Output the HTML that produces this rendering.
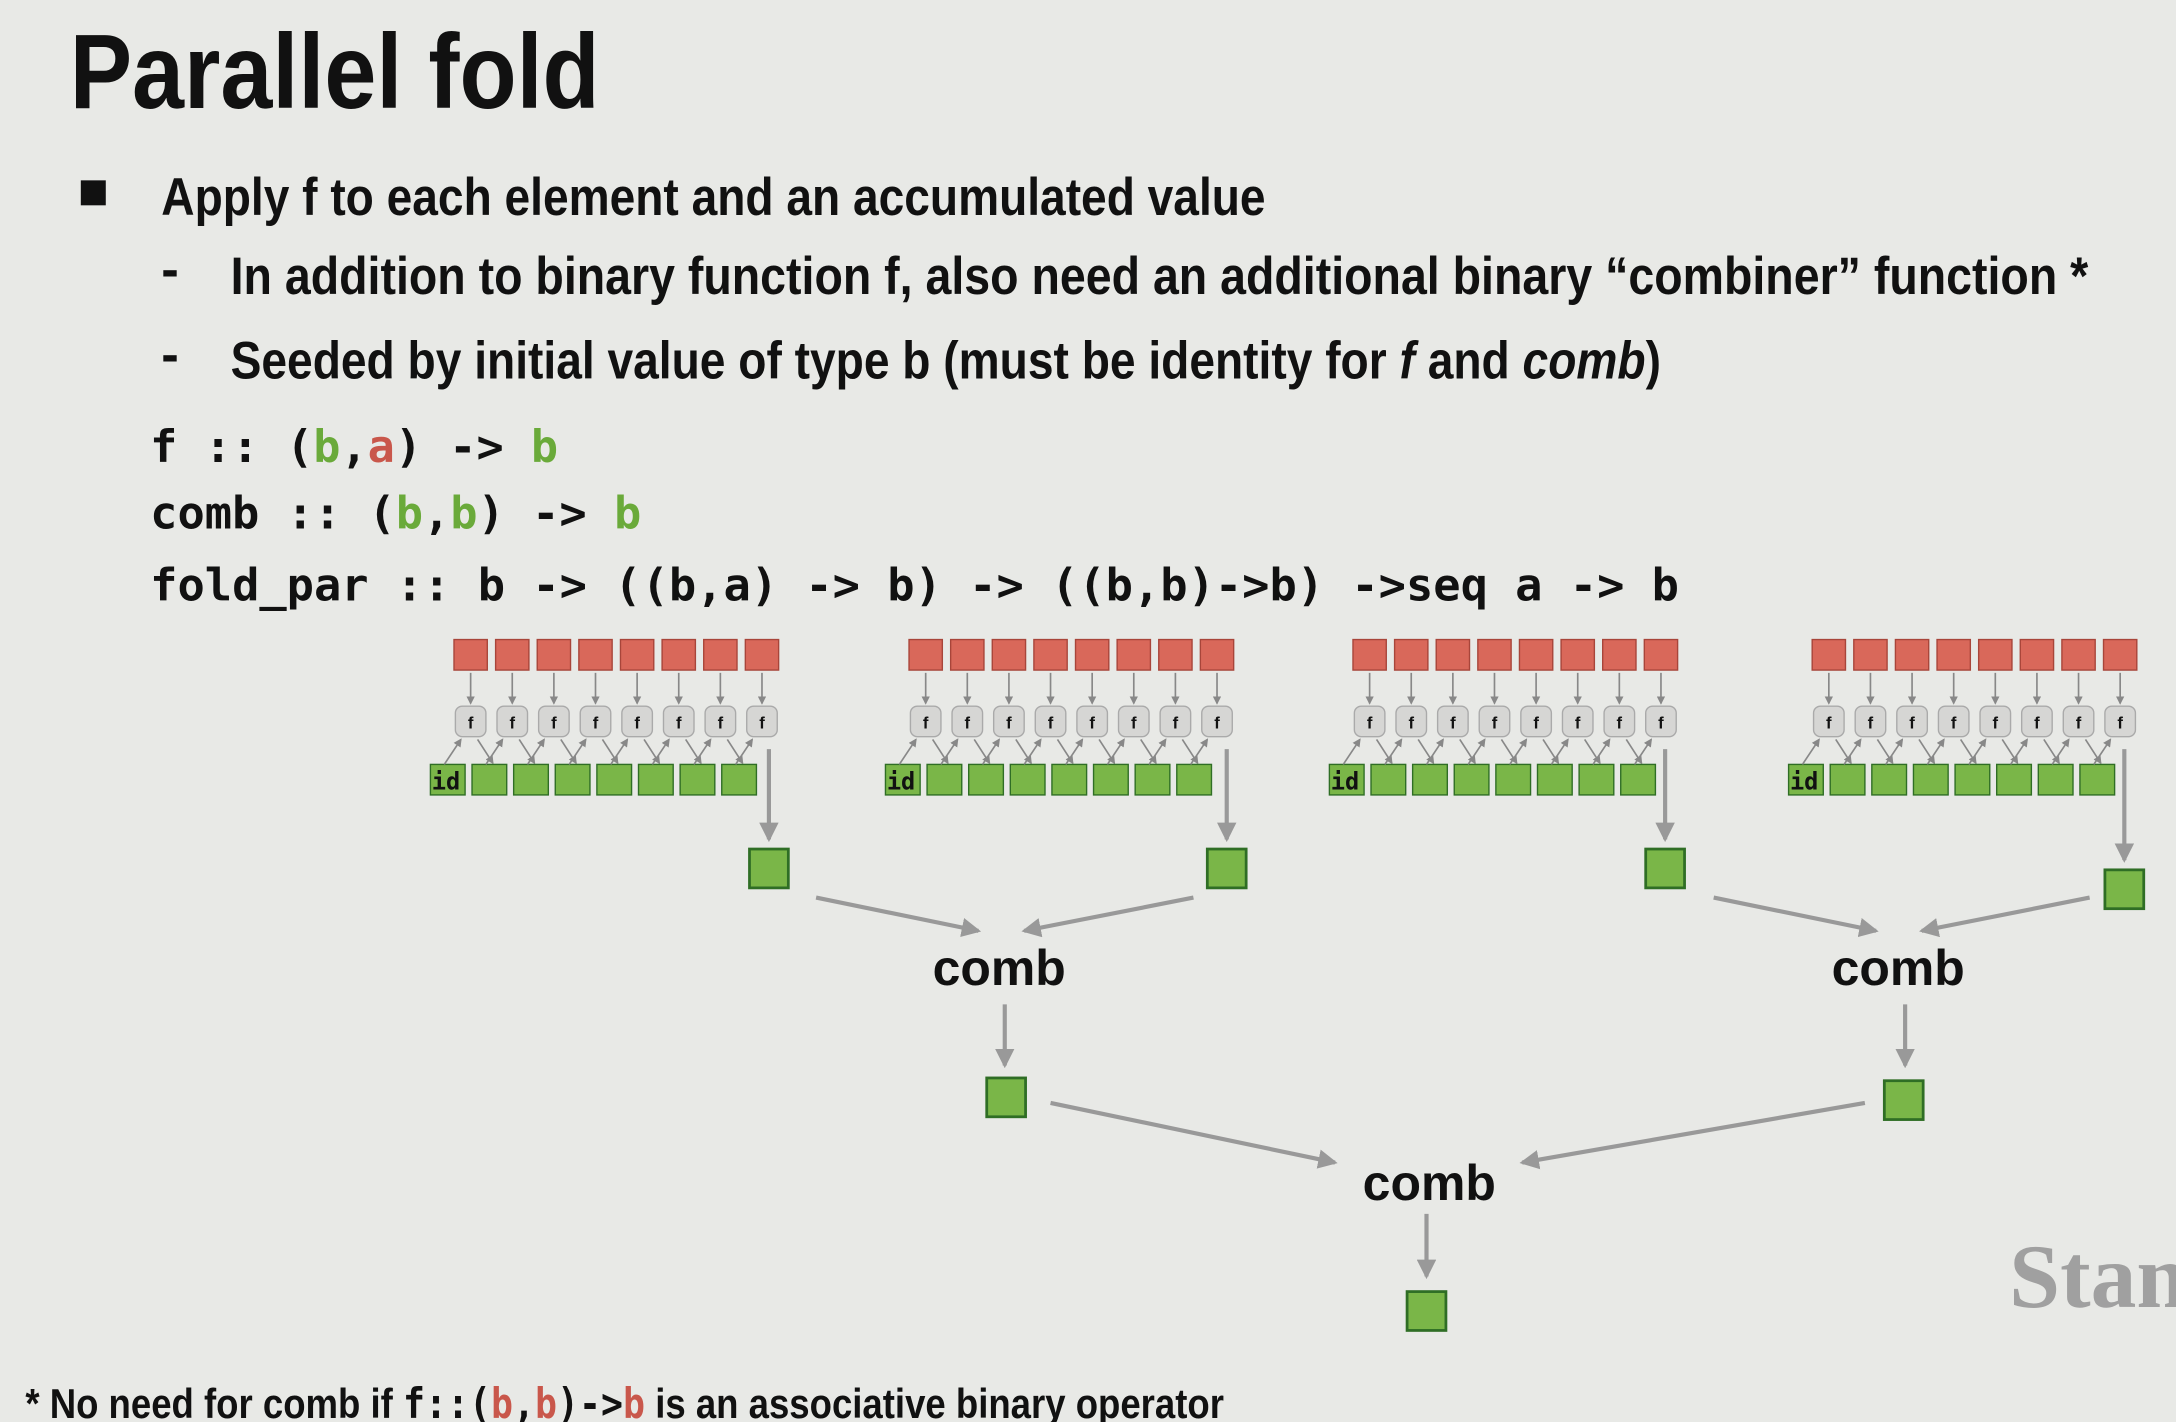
<!DOCTYPE html>
<html><head><meta charset="utf-8"><style>
html,body{margin:0;padding:0;background:#e8e9e6;}
svg{display:block}
.t{font-family:"Liberation Sans",sans-serif;font-weight:bold;fill:#111}
.m{font-family:"DejaVu Sans Mono","Liberation Mono",monospace;font-weight:bold;fill:#111}
</style></head><body>
<svg id="s" width="2176" height="1422" viewBox="0 0 1568 1025" xmlns="http://www.w3.org/2000/svg">
<defs>
<marker id="a" markerWidth="6" markerHeight="6" refX="5" refY="3" orient="auto" markerUnits="userSpaceOnUse"><path d="M0,0 L6,3 L0,6z" fill="#888"/></marker>
<marker id="b" markerWidth="14" markerHeight="14" refX="12" refY="7" orient="auto" markerUnits="userSpaceOnUse"><path d="M0,0 L14,7 L0,14z" fill="#999"/></marker>
</defs>
<rect width="1568" height="1025" fill="#e8e9e6"/>
<text class="t" x="50" y="78" font-size="76" textLength="382" lengthAdjust="spacingAndGlyphs">Parallel fold</text>
<rect x="58" y="130" width="18" height="18" fill="#111"/>
<text class="t" x="116" y="155" font-size="38" textLength="796" lengthAdjust="spacingAndGlyphs">Apply f to each element and an accumulated value</text>
<text class="t" x="116" y="207" font-size="38">-</text>
<text class="t" x="166" y="212" font-size="38" textLength="1339" lengthAdjust="spacingAndGlyphs">In addition to binary function f, also need an additional binary “combiner” function *</text>
<text class="t" x="116" y="268" font-size="38">-</text>
<text class="t" x="166" y="273" font-size="38" textLength="1031" lengthAdjust="spacingAndGlyphs">Seeded by initial value of type b (must be identity for <tspan font-style="italic">f</tspan> and <tspan font-style="italic">comb</tspan>)</text>
<text class="m" x="108" y="333" font-size="32" textLength="294" lengthAdjust="spacingAndGlyphs">f :: (<tspan fill="#6aaa3a">b</tspan>,<tspan fill="#c9574b">a</tspan>) -&gt; <tspan fill="#6aaa3a">b</tspan></text>
<text class="m" x="108" y="381" font-size="32" textLength="354" lengthAdjust="spacingAndGlyphs">comb :: (<tspan fill="#6aaa3a">b</tspan>,<tspan fill="#6aaa3a">b</tspan>) -&gt; <tspan fill="#6aaa3a">b</tspan></text>
<text class="m" x="108" y="433" font-size="32" textLength="1102" lengthAdjust="spacingAndGlyphs">fold_par :: b -&gt; ((b,a) -&gt; b) -&gt; ((b,b)-&gt;b) -&gt;seq a -&gt; b</text>
<g id="g"></g>
<g stroke="#999" stroke-width="3" fill="none">
<line x1="588" y1="647" x2="705" y2="671" marker-end="url(#b)"/>
<line x1="860" y1="647" x2="738" y2="671" marker-end="url(#b)"/>
<line x1="1235" y1="647" x2="1352" y2="671" marker-end="url(#b)"/>
<line x1="1506" y1="647" x2="1385" y2="671" marker-end="url(#b)"/>
<line x1="724" y1="724" x2="724" y2="768" marker-end="url(#b)"/>
<line x1="1373" y1="724" x2="1373" y2="768" marker-end="url(#b)"/>
<line x1="757" y1="795" x2="962" y2="838" marker-end="url(#b)"/>
<line x1="1344" y1="795" x2="1097" y2="838" marker-end="url(#b)"/>
<line x1="1028" y1="875" x2="1028" y2="920" marker-end="url(#b)"/>
</g>
<text class="t" x="720" y="710" font-size="36" text-anchor="middle">comb</text>
<text class="t" x="1368" y="710" font-size="36" text-anchor="middle">comb</text>
<text class="t" x="1030" y="865" font-size="36" text-anchor="middle">comb</text>
<g fill="#7ab648" stroke="#2f6e25" stroke-width="2">
<rect x="540" y="612" width="28" height="28"/>
<rect x="870" y="612" width="28" height="28"/>
<rect x="1186" y="612" width="28" height="28"/>
<rect x="1517" y="627" width="28" height="28"/>
<rect x="711" y="777" width="28" height="28"/>
<rect x="1358" y="779" width="28" height="28"/>
<rect x="1014" y="931" width="28" height="28"/>
</g>
<text x="1448" y="942" font-family="Liberation Serif,serif" font-size="66" fill="#a0a0a0" font-weight="bold">Stan</text>
<text class="t" x="18" y="1022" font-size="30" textLength="864" lengthAdjust="spacingAndGlyphs">* No need for comb if <tspan font-family="DejaVu Sans Mono,monospace">f::(<tspan fill="#c9574b">b</tspan>,<tspan fill="#c9574b">b</tspan>)-&gt;<tspan fill="#c9574b">b</tspan></tspan> is an associative binary operator</text>
</svg>
<script>
var g=document.getElementById('g'),h='';
var offs=[0,328,648,979],outx=[554,884,1200,1531],outy=[605,605,605,620];
for(var k=0;k<4;k++){var o=offs[k];
 h+='<rect x="'+(310+o)+'" y="551" width="25" height="22" fill="#7ab648" stroke="#2f6e25" stroke-width="1"/>';
 h+='<text x="'+(311+o)+'" y="569" font-family="DejaVu Sans Mono,monospace" font-weight="bold" font-size="17" fill="#111">id</text>';
 for(var i=0;i<8;i++){var rx=327+o+30*i,c=rx+12;
  h+='<rect x="'+rx+'" y="461" width="24" height="22" fill="#d9685a" stroke="#a8453a" stroke-width="1"/>';
  h+='<line x1="'+c+'" y1="485" x2="'+c+'" y2="507" stroke="#888" stroke-width="1.2" marker-end="url(#a)"/>';
  h+='<rect x="'+(c-11)+'" y="509" width="22" height="22" rx="5" fill="#d6d6d4" stroke="#aaa" stroke-width="1"/>';
  h+='<text x="'+c+'" y="525" font-family="Liberation Sans,sans-serif" font-weight="bold" font-size="12" text-anchor="middle" fill="#111">f</text>';
  h+='<line x1="'+(c-19)+'" y1="551" x2="'+(c-7)+'" y2="533" stroke="#888" stroke-width="1.2" marker-end="url(#a)"/>';
  if(i<7){h+='<line x1="'+(c+5)+'" y1="533" x2="'+(c+16)+'" y2="550" stroke="#888" stroke-width="1.2" marker-end="url(#a)"/>';
   h+='<rect x="'+(340+o+30*i)+'" y="551" width="25" height="22" fill="#7ab648" stroke="#2f6e25" stroke-width="1"/>';}
 }
 h+='<line x1="'+outx[k]+'" y1="540" x2="'+outx[k]+'" y2="'+outy[k]+'" stroke="#999" stroke-width="3" marker-end="url(#b)"/>';
}
g.innerHTML=h;
</script>
</body></html>
